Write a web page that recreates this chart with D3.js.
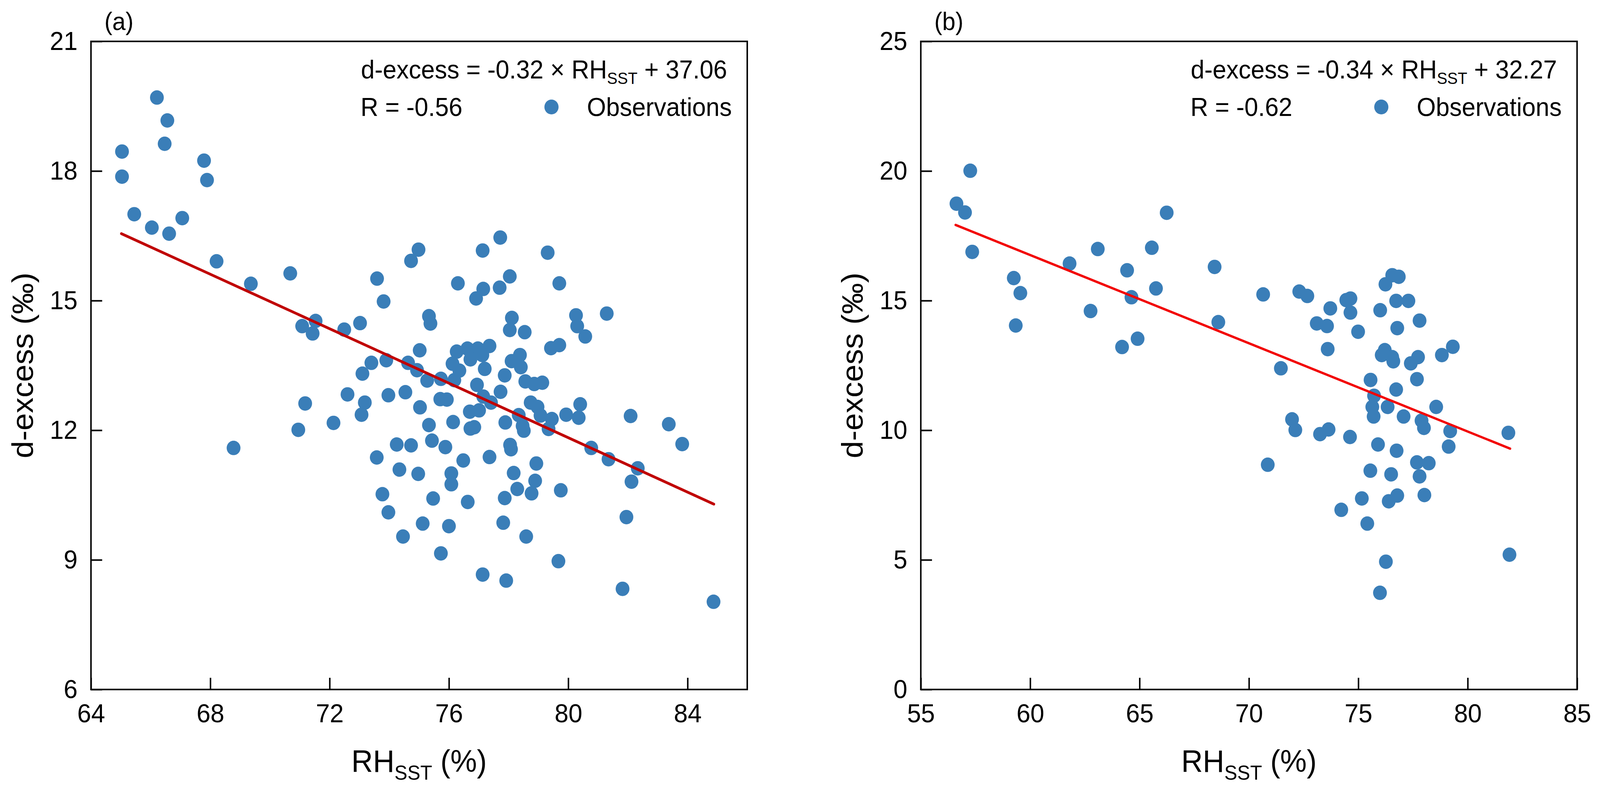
<!DOCTYPE html>
<html>
<head>
<meta charset="utf-8">
<script src="https://cdn.jsdelivr.net/npm/d3@7"></script>
<style>
  html, body { margin: 0; padding: 0; background: #fff; overflow: hidden; width: 100%; height: 100%; }
  svg { display: block; width: 100vw; height: 100vh; font-family: "Liberation Sans", Arial, sans-serif; }
  text { white-space: pre; }
</style>
</head>
<body>
<div id="chart"></div>
<script>
// panel (a) observations
var rhA = [65.04, 65.04, 66.21, 66.56, 66.47, 67.79, 67.89, 65.45, 66.04, 66.62, 67.06, 68.21,
  69.36, 68.78, 70.68, 71.08, 71.53, 71.43, 72.49, 73.02, 73.59, 73.81, 70.95, 71.18,
  72.13, 72.60, 73.40, 73.10, 73.90, 73.18, 73.07, 73.97, 74.54, 74.63, 74.73, 74.25,
  74.73, 73.58, 74.34, 73.77, 73.97, 74.46, 74.98,
  77.72, 77.13, 79.31, 76.30, 77.15, 77.70, 76.91, 78.04, 79.70, 75.33, 75.38, 78.11,
  78.04, 78.54, 80.26, 80.30, 80.57, 81.29, 79.42, 79.70, 75.02, 76.26, 76.62, 76.97,
  77.36, 76.72, 76.12, 76.35, 77.20, 78.10, 78.38, 78.41, 77.87, 74.93, 75.27, 75.73,
  76.18, 76.94, 77.73, 78.56, 78.86, 79.13, 75.71, 75.93, 77.15, 77.41, 78.74, 78.97,
  75.03, 76.70, 77.01, 78.34, 79.07, 79.45, 79.93, 80.40, 80.35, 82.09, 83.37, 75.33,
  76.14, 76.72, 76.85, 77.89, 78.47, 78.51, 79.34, 75.43, 75.88, 78.05, 78.08, 80.77,
  81.35, 83.82, 82.33, 82.12, 76.48, 77.36, 78.93, 74.97, 76.08, 76.08, 78.17, 78.89,
  78.29, 78.77, 75.47, 76.63, 77.87, 79.75, 75.12, 76.00, 77.82, 78.59, 81.95, 75.73,
  79.67, 77.13, 77.92, 81.82, 84.87, 77.12];
var dxA = [18.45, 17.87, 19.70, 19.17, 18.63, 18.24, 17.79, 17.00, 16.69, 16.55, 16.91, 15.91,
  15.39, 11.59, 15.63, 14.41, 14.53, 14.24, 14.33, 14.48, 15.51, 14.98, 12.01, 12.62,
  12.17, 12.83, 13.56, 13.31, 13.62, 12.64, 12.36, 12.81, 12.88, 13.56, 15.92, 11.67,
  11.65, 11.37, 11.09, 10.52, 10.10, 9.54, 16.18,
  16.46, 16.16, 16.11, 15.40, 15.27, 15.30, 15.05, 15.56, 15.40, 14.64, 14.47, 14.60,
  14.32, 14.27, 14.66, 14.41, 14.17, 14.70, 13.90, 13.97, 13.85, 13.82, 13.89, 13.89,
  13.95, 13.64, 13.54, 13.38, 13.42, 13.60, 13.74, 13.46, 13.27, 13.39, 13.15, 13.19,
  13.16, 13.05, 12.89, 13.13, 13.07, 13.10, 12.72, 12.71, 12.78, 12.64, 12.64, 12.54,
  12.53, 12.43, 12.46, 12.35, 12.34, 12.26, 12.36, 12.60, 12.29, 12.33, 12.14, 12.12,
  12.19, 12.04, 12.07, 12.18, 12.10, 11.99, 12.03, 11.76, 11.61, 11.66, 11.56, 11.59,
  11.33, 11.68, 11.12, 10.81, 11.30, 11.38, 11.23, 10.99, 11.00, 10.75, 11.01, 10.83,
  10.64, 10.54, 10.42, 10.34, 10.43, 10.61, 9.84, 9.78, 9.86, 9.54, 9.99, 9.15,
  8.97, 8.66, 8.52, 8.33, 8.03, 13.74];

// panel (b) observations
var rhB = [56.63, 57.02, 57.26, 57.35, 59.25, 59.55, 59.34, 61.80, 63.09, 62.76, 64.43, 64.63,
  64.20, 64.91, 65.56, 65.75, 66.24, 68.43, 68.60, 70.65, 71.46, 71.97, 72.12, 70.86,
  72.30, 72.67, 73.10, 73.57, 73.72, 73.60, 73.25, 73.64, 74.45, 74.64, 74.64, 74.99,
  74.62, 74.22, 75.16, 75.41, 75.56, 75.72, 75.64, 75.70, 75.90, 75.55, 76.00, 76.24,
  76.55, 76.85, 76.73, 77.29, 76.78, 77.80, 76.21, 76.07, 76.55, 76.60, 77.40, 77.73,
  77.68, 76.73, 76.34, 77.07, 77.89, 78.00, 76.75, 78.56, 78.82, 79.32, 79.20, 79.13,
  81.86, 81.91, 77.68, 78.22, 77.80, 76.50, 76.78, 76.39, 78.02, 76.26, 75.99];
var dxB = [18.74, 18.40, 20.01, 16.88, 15.87, 15.29, 14.04, 16.43, 16.99, 14.60, 16.17, 15.13,
  13.21, 13.53, 17.04, 15.47, 18.39, 16.30, 14.17, 15.24, 12.39, 10.42, 10.01, 8.67,
  15.35, 15.18, 14.12, 14.02, 14.70, 13.13, 9.85, 10.03, 15.02, 15.08, 14.54, 13.80,
  9.74, 6.93, 7.37, 6.40, 11.94, 11.33, 10.90, 10.53, 9.45, 8.44, 14.63, 15.63,
  15.98, 15.92, 14.99, 14.99, 13.94, 14.23, 13.09, 12.90, 12.82, 12.66, 12.58, 12.82,
  11.97, 11.57, 10.90, 10.53, 10.37, 10.09, 9.21, 10.90, 12.90, 13.22, 9.97, 9.37,
  9.90, 5.20, 8.76, 8.73, 8.22, 8.30, 7.48, 7.26, 7.50, 4.93, 3.73];

// fitted lines, as drawn (end points)
var fitRhA = [65.02, 84.88];
var fitDxA = [16.55, 10.29];
var fitRhB = [56.59, 81.94];
var fitDxB = [17.92, 9.29];

// axes
var domainXA = [64, 86], domainYA = [6, 21];
var domainXB = [55, 85], domainYB = [0, 25];
var ticksXA = [64, 68, 72, 76, 80, 84];
var ticksYA = [6, 9, 12, 15, 18, 21];
var ticksXB = [55, 60, 65, 70, 75, 80, 85];
var ticksYB = [0, 5, 10, 15, 20, 25];

// annotations
var panelLabels = ['(a)', '(b)'];
var slopes = ['-0.32', '-0.34'];
var intercepts = ['37.06', '32.27'];
var corrs = ['-0.56', '-0.62'];

var Panel;

Panel = (function() {

  Panel.top = 106;
  Panel.bottom = 1766;
  Panel.width = 1760;
  Panel.dotRadius = 18.5;
  Panel.dotColor = '#3a7eb8';
  Panel.tickFont = 67;
  Panel.titleFont = 80;

  function Panel(svg, o) {
    this.svg = svg;
    this.o = o;
    this.buildScales();
    this.buildAxes();
    this.buildDots();
    this.buildFit();
    this.buildFrame();
    this.buildText();
  }

  Panel.prototype.buildScales = function() {
    this.x = d3.scaleLinear().domain(this.o.domainX).range([this.o.left, this.o.left + Panel.width]);
    this.y = d3.scaleLinear().domain(this.o.domainY).range([Panel.bottom, Panel.top]);
  }

  Panel.prototype.styleAxis = function(g) {
    g.select('.domain').remove();
    g.selectAll('.tick line').attr('stroke', '#000').attr('stroke-width', 4);
    g.selectAll('.tick text')
      .attr('fill', '#000')
      .style('font-size', Panel.tickFont + 'px')
      .style('font-family', '"Liberation Sans", Arial, sans-serif');
  }

  Panel.prototype.buildAxes = function() {
    var _this = this;
    this.svg.append('g')
      .attr('transform', 'translate(0,' + Panel.bottom + ')')
      .call(d3.axisBottom(this.x).tickValues(this.o.ticksX).tickSizeInner(-30).tickSizeOuter(0).tickPadding(36))
      .call(function(g) { _this.styleAxis(g) });
    this.svg.append('g')
      .attr('transform', 'translate(' + this.o.left + ',0)')
      .call(d3.axisLeft(this.y).tickValues(this.o.ticksY).tickSizeInner(-30).tickSizeOuter(0).tickPadding(36))
      .call(function(g) { _this.styleAxis(g) });
  }

  Panel.prototype.buildDots = function() {
    var _this = this;
    var pts = d3.zip(this.o.rh, this.o.dx);
    this.svg.append('g').selectAll('circle')
      .data(pts)
      .enter()
      .append('circle')
      .attr('cx', function(d) { return _this.x(d[0]) })
      .attr('cy', function(d) { return _this.y(d[1]) })
      .attr('r', Panel.dotRadius)
      .style('fill', Panel.dotColor);
  }

  Panel.prototype.buildFit = function() {
    var _this = this;
    var line = d3.line()
      .x(function(d) { return _this.x(d[0]) })
      .y(function(d) { return _this.y(d[1]) });
    this.svg.append('path')
      .datum(d3.zip(this.o.fitRh, this.o.fitDx))
      .attr('d', line)
      .attr('fill', 'none')
      .attr('stroke', this.o.lineColor)
      .attr('stroke-width', this.o.lineWidth)
      .attr('stroke-linecap', 'round');
  }

  Panel.prototype.buildFrame = function() {
    this.svg.append('rect')
      .attr('x', this.o.left)
      .attr('y', Panel.top)
      .attr('width', Panel.width)
      .attr('height', Panel.bottom - Panel.top)
      .attr('fill', 'none')
      .attr('stroke', '#000')
      .attr('stroke-width', 4);
  }

  Panel.prototype.buildText = function() {
    var left = this.o.left, right = left + Panel.width;
    var mid = left + Panel.width / 2;

    this.svg.append('text')
      .attr('x', left + 36).attr('y', 77)
      .style('font-size', '64px')
      .text(this.o.label);

    // regression equation
    var eq = this.svg.append('text')
      .attr('x', right - 54).attr('y', Panel.top + 95)
      .attr('text-anchor', 'end')
      .style('font-size', '66px');
    eq.append('tspan').text('d-excess = ' + this.o.slope + ' × RH');
    eq.append('tspan').attr('dy', 14).style('font-size', '42px').text('SST');
    eq.append('tspan').attr('dy', -14).text(' + ' + this.o.intercept);

    this.svg.append('text')
      .attr('x', left + 723).attr('y', Panel.top + 191)
      .style('font-size', '66px')
      .text('R = ' + this.o.corr);

    // legend
    this.svg.append('circle')
      .attr('cx', right - 525).attr('cy', Panel.top + 168)
      .attr('r', Panel.dotRadius + 0.5)
      .style('fill', Panel.dotColor);
    this.svg.append('text')
      .attr('x', right - 430).attr('y', Panel.top + 191)
      .style('font-size', '66px')
      .text('Observations');

    // axis titles
    var xt = this.svg.append('text')
      .attr('x', mid).attr('y', 1977)
      .attr('text-anchor', 'middle')
      .style('font-size', Panel.titleFont + 'px');
    xt.append('tspan').text('RH');
    xt.append('tspan').attr('dy', 20).style('font-size', '52px').text('SST');
    xt.append('tspan').attr('dy', -20).text(' (%)');

    this.svg.append('text')
      .attr('transform', 'translate(' + (left - 156) + ',' + ((Panel.top + Panel.bottom) / 2) + ') rotate(-90)')
      .attr('text-anchor', 'middle')
      .style('font-size', Panel.titleFont + 'px')
      .text('d-excess (‰)');
  }

  return Panel;

})();

// scale the 4291 x 2026 drawing to whatever the window is
var svg = d3.select('#chart')
  .append('svg')
  .attr('viewBox', '0 0 4291 2026')
  .attr('preserveAspectRatio', 'none');

new Panel(svg, {
  left: 244, rh: rhA, dx: dxA, fitRh: fitRhA, fitDx: fitDxA,
  domainX: domainXA, domainY: domainYA, ticksX: ticksXA, ticksY: ticksYA,
  label: panelLabels[0], slope: slopes[0], intercept: intercepts[0], corr: corrs[0],
  lineColor: '#c00000', lineWidth: 7
});

new Panel(svg, {
  left: 2469.5, rh: rhB, dx: dxB, fitRh: fitRhB, fitDx: fitDxB,
  domainX: domainXB, domainY: domainYB, ticksX: ticksXB, ticksY: ticksYB,
  label: panelLabels[1], slope: slopes[1], intercept: intercepts[1], corr: corrs[1],
  lineColor: '#f20000', lineWidth: 6
});
</script>
</body>
</html>
